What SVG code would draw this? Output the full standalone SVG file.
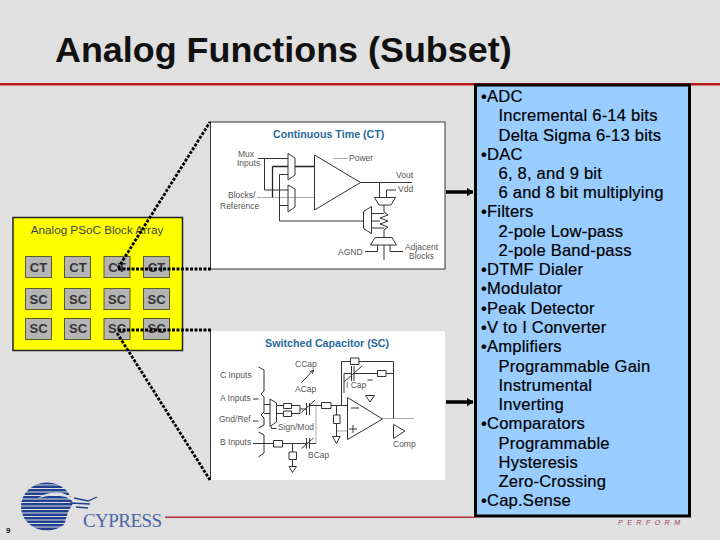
<svg xmlns="http://www.w3.org/2000/svg" width="720" height="540" viewBox="0 0 720 540">
<style>
text{font-family:"Liberation Sans",Arial,sans-serif}
.cell{fill:#b4b4b4;stroke:#5c5c20;stroke-width:1}
.cl{font-size:13px;font-weight:bold;fill:#333;text-anchor:middle}
.dot{fill:none;stroke:#000;stroke-width:2.800;stroke-dasharray:3 1.500}
.arr{fill:none;stroke:#000;stroke-width:3.500}
.t{font-size:16.600px;letter-spacing:.2px;fill:#000;stroke:#000;stroke-width:.2}
.dk{fill:none;stroke:#333;stroke-width:1}
.th{fill:none;stroke:#222;stroke-width:1.300}
.gr{fill:none;stroke:#aaa;stroke-width:1}
.lb{font-size:8.500px;fill:#555}
.hd{font-size:10.700px;font-weight:bold;fill:#2a6a9a}
.st{fill:#1f3f8f}
</style>
<defs>
<marker id="ah" markerUnits="userSpaceOnUse" markerWidth="7" markerHeight="9" refX="6.500" refY="4.500" orient="auto"><path d="M0 0L7 4.500L0 9Z" fill="#000"/></marker>
<clipPath id="globe"><ellipse cx="47" cy="506.500" rx="26" ry="24"/></clipPath>
</defs>
<rect width="720" height="540" fill="#e0e0e0"/>
<rect id="title-rule" x="0" y="83" width="720" height="2.500" fill="#b81818"/>
<text id="title" x="55" y="62" font-size="35.900" font-weight="bold" fill="#111">Analog Functions (Subset)</text>

<g id="block-array">
<rect x="13" y="217.500" width="169.500" height="133" fill="#ffff00" stroke="#222" stroke-width="1.500"/>
<text x="97" y="234" font-size="11.700" fill="#444" text-anchor="middle">Analog PSoC Block Array</text>
<rect class="cell" x="25.500" y="256.500" width="26" height="21"/><text class="cl" x="38.500" y="272">CT</text>
<rect class="cell" x="64.500" y="256.500" width="26" height="21"/><text class="cl" x="78" y="272">CT</text>
<rect class="cell" x="104" y="256.500" width="26" height="21"/><text class="cl" x="117" y="272">CT</text>
<rect class="cell" x="143.500" y="256.500" width="26" height="21"/><text class="cl" x="156.500" y="272">CT</text>
<rect class="cell" x="25.500" y="288.500" width="26" height="21"/><text class="cl" x="38.500" y="304">SC</text>
<rect class="cell" x="64.500" y="288.500" width="26" height="21"/><text class="cl" x="78" y="304">SC</text>
<rect class="cell" x="104" y="288.500" width="26" height="21"/><text class="cl" x="117" y="304">SC</text>
<rect class="cell" x="143.500" y="288.500" width="26" height="21"/><text class="cl" x="156.500" y="304">SC</text>
<rect class="cell" x="25.500" y="318.500" width="26" height="21"/><text class="cl" x="38.500" y="333">SC</text>
<rect class="cell" x="64.500" y="318.500" width="26" height="21"/><text class="cl" x="78" y="333">SC</text>
<rect class="cell" x="104" y="318.500" width="26" height="21"/><text class="cl" x="117" y="333">SC</text>
<rect class="cell" x="143.500" y="318.500" width="26" height="21"/><text class="cl" x="156.500" y="333">SC</text>
</g>

<g id="ct-detail">
<rect x="210.500" y="122" width="234.500" height="147" fill="#fff" stroke="#333" stroke-width="1"/>
<text class="hd" x="273" y="138">Continuous Time (CT)</text>
<text class="lb" x="238" y="157">Mux</text><text class="lb" x="237" y="166">Inputs</text>
<text class="lb" x="228" y="198">Blocks/</text><text class="lb" x="220" y="209">Reference</text>
<text class="lb" x="349" y="161">Power</text>
<text class="lb" x="396" y="178">Vout</text>
<text class="lb" x="398" y="192">Vdd</text>
<text class="lb" x="338" y="255">AGND</text>
<text class="lb" x="405" y="250">Adjacent</text><text class="lb" x="409" y="259">Blocks</text>
<path class="gr" d="M257 197.500H314M333 158.500H348"/>
<path class="dk" d="M258 158.500H288M264.500 158.500V190H288M279.500 174.500H288M279.500 174.500V221H363M279.500 205.500H288"/>
<path class="th" d="M272.500 166.500H288M272.500 166.500V197.500M295 166.500H314"/>
<path class="dk" d="M288 153.500L295 158V175L288 180ZM288 185L295 189V207L288 212ZM314.500 155L360.500 182.500L314.500 210ZM360.500 182.500H412M379.500 182.500V197.500M374.500 197.500H395.500L391 205H379ZM386.500 197.500V190H396M384 205V212L388 215L380 218L388 221L380 224L388 227L384 230V237M363.500 211.500L371.500 206.500V233.500L363.500 228.500ZM371.500 213.500H384M371.500 221H380M371.500 228H384M375 237.500H392L396.500 245H370.500ZM377.500 245V251.500H365M384 245V260M390 245V251.500H403"/>
</g>

<g id="sc-detail">
<rect x="210.500" y="331" width="234.500" height="149" fill="#fff"/>
<path d="M210.500 331V480" fill="none" stroke="#333"/>
<text class="hd" x="265" y="347">Switched Capacitor (SC)</text>
<text class="lb" x="220" y="378">C Inputs</text>
<text class="lb" x="220" y="401">A Inputs</text>
<text class="lb" x="219" y="422">Gnd/Ref</text>
<text class="lb" x="220" y="445">B Inputs</text>
<text class="lb" x="295" y="367">CCap</text><text class="lb" x="295" y="392">ACap</text>
<text class="lb" x="278" y="430">Sign/Mod</text><text class="lb" x="308" y="458">BCap</text>
<text class="lb" x="346" y="388">I Cap</text><text class="lb" x="393" y="447">Comp</text>
<path class="gr" d="M316 443.500V405M337 431H347M382.500 418.500H414"/>
<path class="dk" d="M258.500 367L264 370V391L261 394L264 397V412L261 415L264 418V425L258.500 428M258.500 432L264 435V453L258.500 457M253 399H258.500M253 421H258.500M253 443.500H273M264 404.500H270M264 413.500H270M270 399L276.500 403V422L270 426.500ZM271.500 426.500V428.500H276.500"/>
<path class="dk" d="M276.500 405.500H283.500M276.500 413.500H283.500M283.500 403.500h8v5h-8zM283.500 411h8v5.500h-8zM291.500 405.500H300M291.500 413.500H300M300 405.500V413.500M300 409H306.500M306.500 403V415M309.500 403V415M301.500 412.500L315 400M309.500 405.500H321.500M321.500 402.500h9.500v6h-9.500zM331 405.500H347M336.500 405.500V415M333.500 415h6.500v8.500h-6.500zM336.500 423.500V436.500M332.500 436.500H340L336.500 443.500Z"/>
<path class="dk" d="M273.500 440.500h9v6.500h-9zM282.500 443.500H306.500M292.500 443.500V452M289 452h7.500v7.500h-7.500zM292.500 459.500V466.500M289 466.500H296.500L292.500 472.500ZM306.500 438V448.500M309.500 438V448.500M301.500 448.500L313.500 438M309.500 443.500H316"/>
<path class="dk" d="M301.500 382.500L313.500 370M310 371.500L313.500 370L312.500 374"/>
<path class="dk" d="M347.500 397.500L382.500 419L347.500 439.500ZM351 408H359M353 425V433M349 429H357M341.500 405.500V361.500H350.500M350.500 358h8.500v6.500h-8.500zM359 361.500H393.500V418.500M344 373.500V393M344 373.500H351M351.500 366V381M354 366V381M344 382L362 366M354 373.500H377.500M377.500 370.500h8.500v6h-8.500zM386 373.500H393.500M367.500 380H372.500M365.500 395.500H374.500L370 402ZM393.500 424.500L405 431L393.500 438.500Z"/>
</g>

<g id="list">
<rect x="475.500" y="85" width="214" height="431" fill="#99ccff" stroke="#000" stroke-width="3"/>
<text class="t" x="481" y="102">•ADC</text>
<text class="t" x="498.500" y="121">Incremental 6-14 bits</text>
<text class="t" x="498.500" y="141">Delta Sigma 6-13 bits</text>
<text class="t" x="481" y="160">•DAC</text>
<text class="t" x="498.500" y="179">6, 8, and 9 bit</text>
<text class="t" x="498.500" y="198">6 and 8 bit multiplying</text>
<text class="t" x="481" y="217">•Filters</text>
<text class="t" x="498.500" y="237">2-pole Low-pass</text>
<text class="t" x="498.500" y="256">2-pole Band-pass</text>
<text class="t" x="481" y="275">•DTMF Dialer</text>
<text class="t" x="481" y="294">•Modulator</text>
<text class="t" x="481" y="314">•Peak Detector</text>
<text class="t" x="481" y="333">•V to I Converter</text>
<text class="t" x="481" y="352">•Amplifiers</text>
<text class="t" x="498.500" y="372">Programmable Gain</text>
<text class="t" x="498.500" y="391">Instrumental</text>
<text class="t" x="498.500" y="410">Inverting</text>
<text class="t" x="481" y="429">•Comparators</text>
<text class="t" x="498.500" y="449">Programmable</text>
<text class="t" x="498.500" y="468">Hysteresis</text>
<text class="t" x="498.500" y="487">Zero-Crossing</text>
<text class="t" x="481" y="506">•Cap.Sense</text>
</g>

<g id="connectors">
<path class="dot" d="M118 268L210 122"/>
<path class="dot" d="M118 269H211"/>
<path class="dot" d="M118 330H211"/>
<path class="dot" d="M117 333L210 480"/>
<path class="arr" marker-end="url(#ah)" d="M446 192H473"/>
<path class="arr" marker-end="url(#ah)" d="M446 402H473"/>
</g>

<g id="logo">
<g clip-path="url(#globe)">
<rect class="st" x="20" y="482" width="54" height="2.500"/>
<rect class="st" x="20" y="485.500" width="54" height="2.500"/>
<rect class="st" x="20" y="489" width="54" height="2.500"/>
<rect class="st" x="20" y="492.500" width="54" height="2.500"/>
<rect class="st" x="20" y="496" width="54" height="2.500"/>
<rect class="st" x="20" y="499.500" width="54" height="2.500"/>
<rect class="st" x="20" y="503" width="54" height="2.500"/>
<rect class="st" x="20" y="506.500" width="54" height="2.500"/>
<rect class="st" x="20" y="510" width="54" height="2.500"/>
<rect class="st" x="20" y="513.500" width="54" height="2.500"/>
<rect class="st" x="20" y="517" width="54" height="2.500"/>
<rect class="st" x="20" y="520.500" width="54" height="2.500"/>
<rect class="st" x="20" y="524" width="54" height="2.500"/>
<rect class="st" x="20" y="527.500" width="54" height="3"/>
</g>
<path d="M37 499Q50 493 66 497L74 502L68 512L63 529L71 527L75 512L82 506L74 498L62 493Q47 491 37 499Z" fill="#e0e0e0"/>
<path d="M74 498L88 501L97 497M70 503L90 504M76 507L88 508" fill="none" stroke="#1f3f8f" stroke-width="1.300"/>
<text x="83" y="526.500" font-size="19" fill="#4a66a4" style="font-family:'Liberation Serif',serif" textLength="79">CYPRESS</text>
<rect x="165" y="516.500" width="310" height="1.500" fill="#b03040"/>
<text x="6" y="533" font-size="8" font-weight="bold" fill="#111">9</text>
<text x="618" y="525" font-size="7" font-style="italic" fill="#a04060" textLength="62">PERFORM</text>
</g>
</svg>
